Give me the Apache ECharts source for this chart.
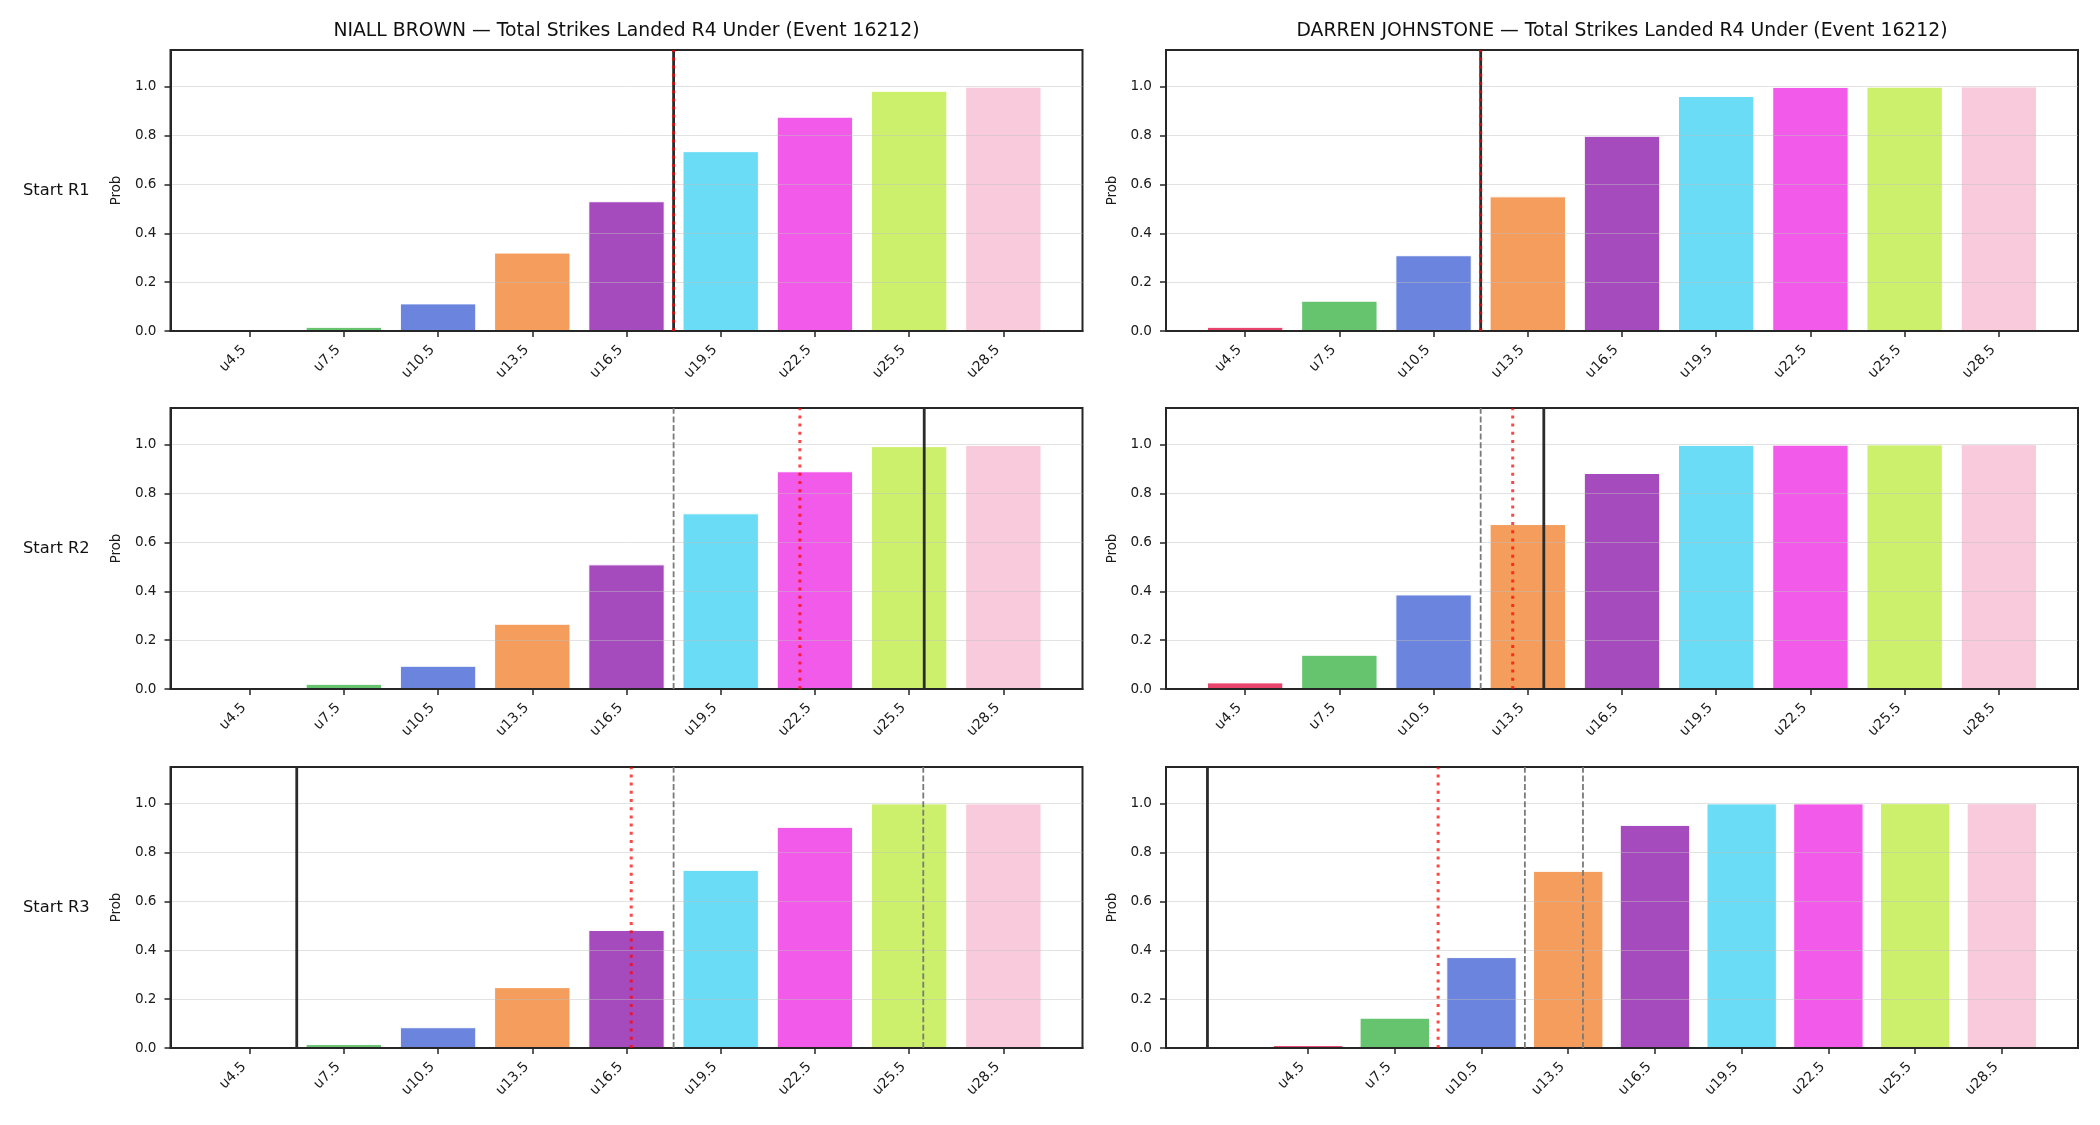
<!DOCTYPE html>
<html><head><meta charset="utf-8">
<script src="https://cdn.jsdelivr.net/npm/echarts@6/dist/echarts.min.js"></script>
<style>html,body{margin:0;padding:0;background:#fff}#c{width:2100px;height:1125px}</style>
</head><body><div id="c"></div>
<script>
// ---------------- data ----------------
const categories = ['u4.5','u7.5','u10.5','u13.5','u16.5','u19.5','u22.5','u25.5','u28.5'];
const yTicks = [0, 0.2, 0.4, 0.6, 0.8, 1.0];
const rowLabels = ['Start R1', 'Start R2', 'Start R3'];
const fighters = ['NIALL BROWN', 'DARREN JOHNSTONE'];
const titleSuffix = ' \u2014 Total Strikes Landed R4 Under (Event 16212)';

const niallR1 = [0, 0.015, 0.111, 0.319, 0.529, 0.734, 0.875, 0.981, 0.998];
const niallR2 = [0, 0.019, 0.093, 0.265, 0.508, 0.717, 0.889, 0.992, 0.997];
const niallR3 = [0, 0.014, 0.083, 0.247, 0.481, 0.727, 0.903, 0.999, 0.999];
const darrenR1 = [0.015, 0.122, 0.308, 0.549, 0.797, 0.960, 0.997, 0.998, 0.999];
const darrenR2 = [0.025, 0.138, 0.385, 0.673, 0.882, 0.997, 0.998, 0.999, 1.0];
const darrenR3 = [0.010, 0.122, 0.370, 0.723, 0.911, 0.999, 0.999, 1.0, 1.0];

// vertical markers (in category-index units), one entry per start round
const niallSolid = [4.5, 7.16, 0.5];
const niallDotted = [4.5, 5.84, 4.05];
const niallDashed = [[], [4.5], [4.5, 7.15]];
const darrenSolid = [2.5, 3.17, -1.16];
const darrenDotted = [2.5, 2.84, 1.5];
const darrenDashed = [[], [2.5], [2.5, 3.17]];

const barColors = ['#e8446c','#66c46e','#6b84de','#f59d5c','#a64bbe','#6adcf5','#f25be9','#cdf06c','#f9cadb'];

// ---------------- layout ----------------
const FONT = 'DejaVu Sans';
const colLeft = [170.5, 1166];
const plotW = 912;
const rowTop = [50, 408, 767];
const plotH = 281;
const YMAX = 1.15;
const AX = '#262626';

const panels = [
  {vals: niallR1, solid: niallSolid[0], dotted: niallDotted[0], dashed: niallDashed[0], col: 0, row: 0},
  {vals: darrenR1, solid: darrenSolid[0], dotted: darrenDotted[0], dashed: darrenDashed[0], col: 1, row: 0},
  {vals: niallR2, solid: niallSolid[1], dotted: niallDotted[1], dashed: niallDashed[1], col: 0, row: 1},
  {vals: darrenR2, solid: darrenSolid[1], dotted: darrenDotted[1], dashed: darrenDashed[1], col: 1, row: 1},
  {vals: niallR3, solid: niallSolid[2], dotted: niallDotted[2], dashed: niallDashed[2], col: 0, row: 2},
  {vals: darrenR3, solid: darrenSolid[2], dotted: darrenDotted[2], dashed: darrenDashed[2], col: 1, row: 2}
];

function xLimits(lines) {
  const lo = Math.min(-0.4, ...lines);
  const hi = Math.max(categories.length - 0.6, ...lines);
  const pad = 0.05 * (hi - lo);
  return [lo - pad, hi + pad];
}

const idx = categories.map((_, i) => i);
const grids = [], xAxes = [], yAxes = [], series = [];

panels.forEach((p, k) => {
  const lines = [p.solid, p.dotted, ...p.dashed];
  const [xmin, xmax] = xLimits(lines);
  grids.push({left: colLeft[p.col], top: rowTop[p.row], width: plotW, height: plotH,
    show: true, borderColor: AX, borderWidth: 2, backgroundColor: 'transparent', containLabel: false});
  xAxes.push({gridIndex: k, type: 'value', min: xmin, max: xmax, z: 3,
    axisLine: {show: true, onZero: false, lineStyle: {color: AX, width: 2}},
    axisTick: {show: true, customValues: idx, length: 6, lineStyle: {color: AX, width: 1.5}},
    axisLabel: {show: true, customValues: idx, formatter: v => categories[Math.round(v)],
      rotate: 45, margin: 11, padding: [0, 8, 0, 0], fontSize: 14, color: '#1a1a1a', fontFamily: FONT},
    splitLine: {show: false}});
  yAxes.push({gridIndex: k, type: 'value', min: 0, max: YMAX, interval: 0.2, z: 3,
    axisLine: {show: true, onZero: false, lineStyle: {color: AX, width: 2}},
    axisTick: {show: true, customValues: yTicks, length: 6, lineStyle: {color: AX, width: 1.5}},
    axisLabel: {show: true, customValues: yTicks, formatter: v => v.toFixed(1), margin: 14,
      fontSize: 13.6, color: '#1a1a1a', fontFamily: FONT},
    splitLine: {show: true, lineStyle: {color: 'rgba(190,190,190,0.45)', width: 1}},
    name: 'Prob', nameLocation: 'middle', nameGap: 47,
    nameTextStyle: {fontSize: 13.3, color: '#1a1a1a', fontFamily: FONT}});

  series.push({type: 'custom', xAxisIndex: k, yAxisIndex: k, z: 2, silent: true, clip: true,
    data: p.vals.map((v, i) => [i, v]),
    renderItem: (params, api) => {
      const i = api.value(0), v = api.value(1);
      const a = api.coord([i - 0.4, v]);
      const b = api.coord([i + 0.4, 0]);
      const h = b[1] - a[1];
      if (h < 0.5) return null;
      return {type: 'rect', shape: {x: a[0], y: a[1], width: b[0] - a[0], height: h},
        style: {fill: barColors[i], stroke: '#ffffff', lineWidth: 1}};
    }});

  p.dashed.forEach(x => series.push({type: 'line', xAxisIndex: k, yAxisIndex: k, z: 5, silent: true,
    symbol: 'none', data: [[x, 0], [x, YMAX]],
    lineStyle: {color: '#7a7a7a', width: 1.8, type: [6, 2.6]}}));
  series.push({type: 'line', xAxisIndex: k, yAxisIndex: k, z: 6, silent: true,
    symbol: 'none', data: [[p.solid, 0], [p.solid, YMAX]],
    lineStyle: {color: '#2b2b2b', width: 2.8, type: 'solid'}});
  series.push({type: 'line', xAxisIndex: k, yAxisIndex: k, z: 7, silent: true,
    symbol: 'none', data: [[p.dotted, 0], [p.dotted, YMAX]],
    lineStyle: {color: 'rgba(255,0,0,0.72)', width: 3, type: [3, 5.2], cap: 'butt'}});
});

const graphics = [];
fighters.forEach((f, c) => {
  graphics.push({type: 'text', x: colLeft[c] + plotW / 2, y: 31, z: 10,
    style: {text: f + titleSuffix, align: 'center', verticalAlign: 'middle',
      fontSize: 18.8, fontFamily: FONT, fill: '#111'}});
});
rowLabels.forEach((t, r) => {
  graphics.push({type: 'text', x: 23, y: rowTop[r] + plotH / 2, z: 10,
    style: {text: t, align: 'left', verticalAlign: 'middle', fontSize: 16.3, fontFamily: FONT, fill: '#111'}});
});

const chart = echarts.init(document.getElementById('c'), null, {renderer: 'canvas'});
chart.setOption({
  animation: false,
  backgroundColor: '#ffffff',
  textStyle: {fontFamily: FONT},
  grid: grids, xAxis: xAxes, yAxis: yAxes, series: series, graphic: graphics
});
</script></body></html>
